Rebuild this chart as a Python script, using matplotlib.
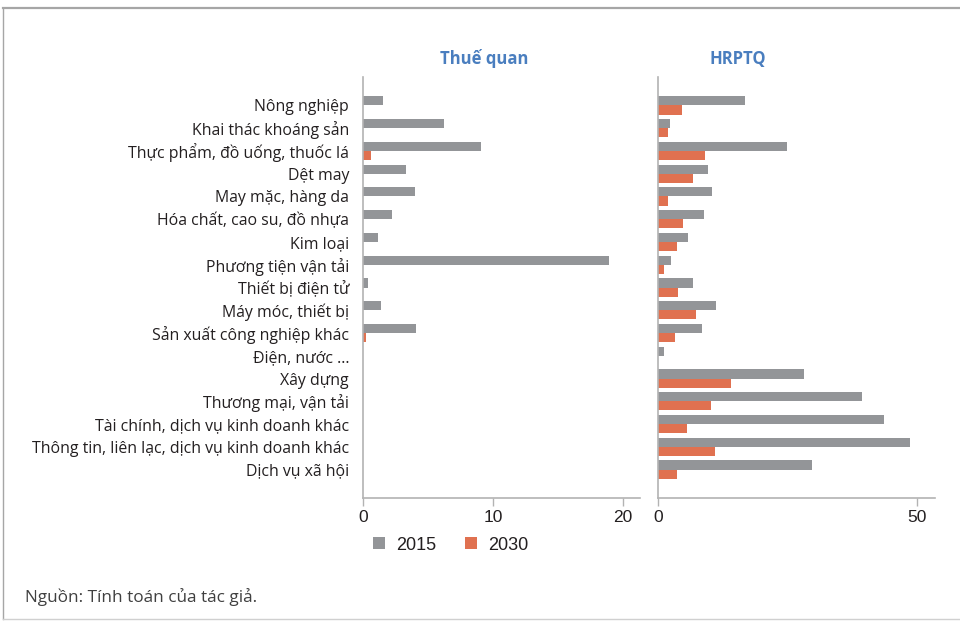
import matplotlib
matplotlib.use("Agg")
import matplotlib.pyplot as plt
from matplotlib.patches import Patch
import numpy as np

categories = [
    "Nông nghiệp",
    "Khai thác khoáng sản",
    "Thực phẩm, đồ uống, thuốc lá",
    "Dệt may",
    "May mặc, hàng da",
    "Hóa chất, cao su, đồ nhựa",
    "Kim loại",
    "Phương tiện vận tải",
    "Thiết bị điện tử",
    "Máy móc, thiết bị",
    "Sản xuất công nghiệp khác",
    "Điện, nước ...",
    "Xây dựng",
    "Thương mại, vận tải",
    "Tài chính, dịch vụ kinh doanh khác",
    "Thông tin, liên lạc, dịch vụ kinh doanh khác",
    "Dịch vụ xã hội",
]

tariff_2015 = [1.5, 6.2, 9.1, 3.3, 4.0, 2.2, 1.15, 18.95, 0.4, 1.35, 4.1, 0, 0, 0, 0, 0, 0]
tariff_2030 = [0, 0, 0.6, 0, 0, 0, 0, 0, 0, 0, 0.2, 0, 0, 0, 0, 0, 0]

ntm_2015 = [16.9, 2.4, 24.9, 9.8, 10.5, 8.9, 5.9, 2.6, 6.9, 11.25, 8.55, 1.3, 28.3, 39.4, 43.7, 48.6, 29.8]
ntm_2030 = [4.75, 2.05, 9.2, 6.9, 2.0, 4.95, 3.7, 1.2, 3.9, 7.4, 3.35, 0, 14.2, 10.35, 5.65, 11.05, 3.65]

panel_titles = ["Thuế quan", "HRPTQ"]
series_names = ["2015", "2030"]
tariff_ticks = [0, 10, 20]
ntm_ticks = [0, 50]

GRAY = "#939598"
ORANGE = "#E07150"
SPINE = "#b3b3b3"
TITLE_BLUE = "#4A7EBF"

fig = plt.figure(figsize=(9.6, 6.21), dpi=100)

# outer frame
fig.add_artist(plt.Line2D([3/960, 1.0], [1 - 8/621, 1 - 8/621], color="#a6a6a6", lw=1.6, transform=fig.transFigure))
fig.add_artist(plt.Line2D([3/960, 3/960], [1 - 8/621, 1 - 619/621], color="#a6a6a6", lw=1.0, transform=fig.transFigure))
fig.add_artist(plt.Line2D([3/960, 1.0], [1 - 619/621, 1 - 619/621], color="#d0d0d0", lw=1.0, transform=fig.transFigure))

bottom = 1 - 498/621
top = 1 - 77/621
h = top - bottom
ax1 = fig.add_axes([363/960, bottom, (640 - 363)/960, h])
ax2 = fig.add_axes([657.7/960, bottom, (935 - 657.7)/960, h])

y = np.arange(len(categories))
bh = 0.4

for ax, v15, v30, xmax, ticks in [
    (ax1, tariff_2015, tariff_2030, 21.3, tariff_ticks),
    (ax2, ntm_2015, ntm_2030, 53.5, ntm_ticks),
]:
    ax.barh(y - bh/2, v15, height=bh, color=GRAY, edgecolor="none")
    ax.barh(y + bh/2, v30, height=bh, color=ORANGE, edgecolor="none")
    ax.set_xlim(0, xmax)
    ax.set_ylim(len(categories) - 1 + 1.25, -1.25)
    ax.set_xticks(ticks)
    ax.set_xticklabels([str(t) for t in ticks], fontfamily="Liberation Sans", fontsize=12.5, color="#231f20")
    ax.tick_params(axis="x", direction="out", length=6, width=1, color=SPINE, pad=3)
    ax.tick_params(axis="y", length=0)
    for s in ["top", "right"]:
        ax.spines[s].set_visible(False)
    for s in ["left", "bottom"]:
        ax.spines[s].set_color(SPINE)
        ax.spines[s].set_linewidth(1.2)

ax1.set_yticks(y)
ax1.set_yticklabels(categories, fontfamily="Open Sans", fontsize=11.4, color="#231f20")
ax1.tick_params(axis="y", pad=10)
ax2.set_yticks([])

fig.text(484/960, 1 - 59/621, panel_titles[0], ha="center", va="center", fontfamily="Open Sans",
         fontweight="bold", fontsize=12, color=TITLE_BLUE)
fig.text(738/960, 1 - 59/621, panel_titles[1], ha="center", va="center", fontfamily="Open Sans",
         fontweight="bold", fontsize=12, color=TITLE_BLUE)

handles = [Patch(facecolor=GRAY, edgecolor="none"), Patch(facecolor=ORANGE, edgecolor="none")]
fig.legend(handles, series_names, loc="center", bbox_to_anchor=(451/960, 1 - 545/621), ncol=2, frameon=False,
           prop={"family": "Liberation Sans", "size": 13}, handlelength=0.62, handleheight=0.62,
           handletextpad=0.65, columnspacing=1.6, labelcolor="#231f20")

fig.text(25/960, 1 - 597/621, "Nguồn: Tính toán của tác giả.", ha="left", va="center",
         fontfamily="Open Sans", fontsize=12.3, color="#404040")

fig.savefig("out.png", dpi=100)
